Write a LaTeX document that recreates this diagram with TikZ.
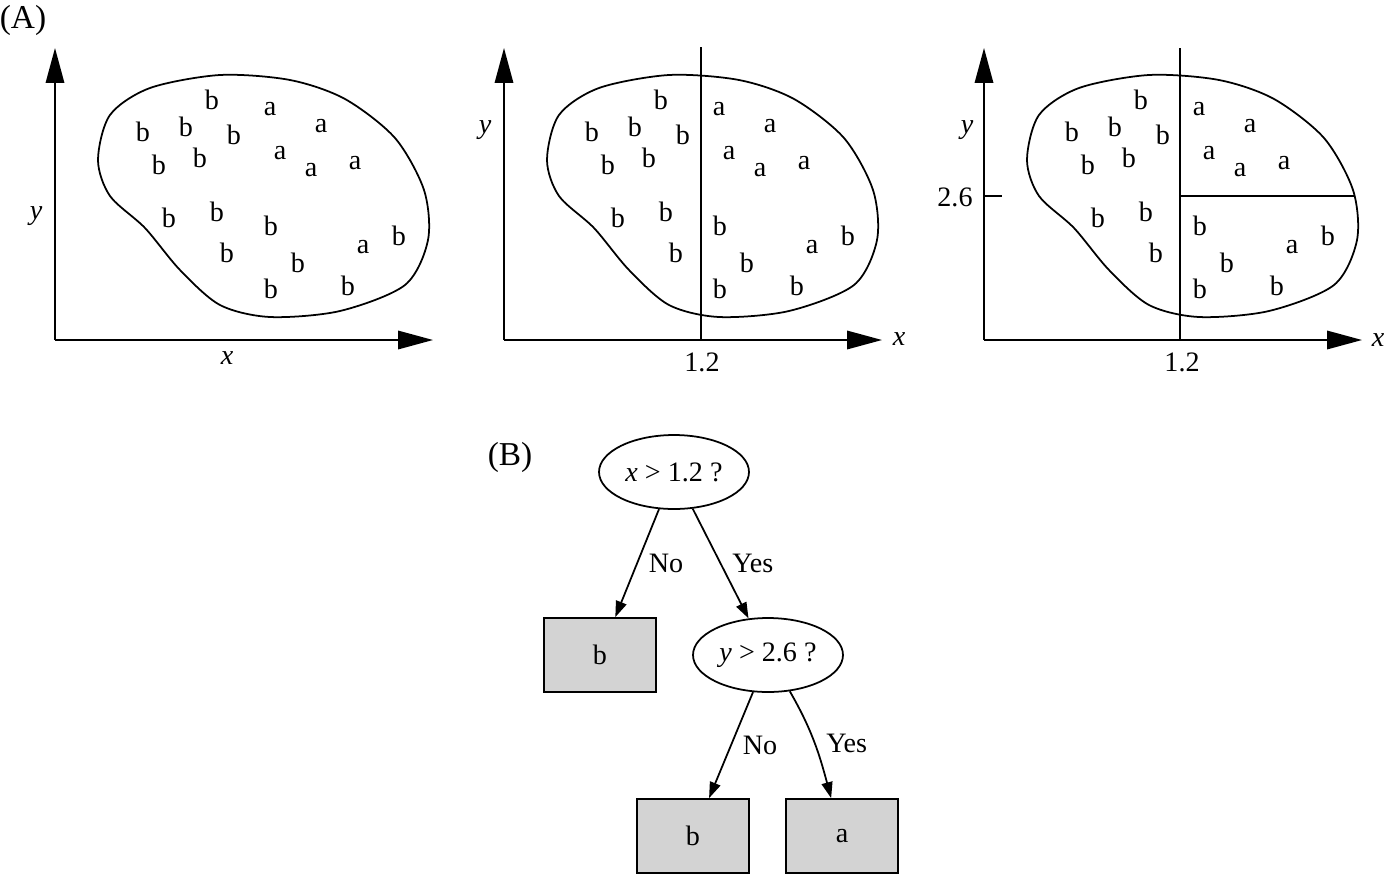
\documentclass[tikz,border=0pt]{standalone}
\usepackage{fontspec}
\setmainfont{Liberation Serif}
\usetikzlibrary{arrows.meta,shapes.geometric,positioning}
\definecolor{leafgray}{RGB}{211,211,211}
\tikzset{ax/.style={line width=1pt,-{Triangle[length=0.7cm,width=0.37cm]}},
         cut/.style={line width=1pt},
         test/.style={ellipse,draw,line width=1pt,minimum width=3cm,minimum height=1.48cm,inner sep=0pt},
         leaf/.style={rectangle,draw,line width=1pt,fill=leafgray,minimum width=2.24cm,minimum height=1.48cm},
         br/.style={line width=1pt,-{Triangle[length=0.32cm,width=0.22cm]}},
         lbl/.style={midway,right=0.1cm},
         part/.style={font=\fontsize{19}{22}\selectfont}}

\begin{document}
\begin{tikzpicture}[x=0.02cm,y=-0.02cm,every node/.style={font=\fontsize{16}{19}\selectfont}]
    \useasboundingbox (0,0) rectangle (1386,876);
    % the three panels of (A)
    \foreach \dx in {0,449,929}{
      \begin{scope}[shift={(\dx,0)}]
        \draw[ax] (55,340) -- (55,48);
        \draw[ax] (55,340) -- (433,340);
        \draw[cut] plot[smooth cycle] coordinates {(220,75) (290,80) (345,99) (395,138) (424,190) (428,240) (405,285) (340,311) (270,317) (220,305) (180,270) (145,228) (110,196) (98,160) (110,115) (150,88)};
        \foreach \px/\py/\c [count=\i] in {212/100/b,270/109/a,321/126/a,143/132/b,186/127/b,234/135/b,159/165/b,200/158/b,280/153/a,311/170/a,355/163/a,169/218/b,217/212/b,271/226/b,227/253/b,363/247/a,399/236/b,298/263/b,271/289/b,348/286/b}
          \node (pt\dx-\i) at (\px,\py) {\c};
      \end{scope}
    }
    \node[part] (lblA) at (23,20) {(A)};
    \node (y1) at (36,216) {\textit{y}};
    \node (x1) at (227,358) {\textit{x}};
    % x > 1.2
    \draw[cut] (701,47) -- (701,340);
    \node (y2) at (485,130) {\textit{y}};
    \node (x2) at (899,339) {\textit{x}};
    \node (c2) at (702,362) {1.2};
    % x > 1.2 and y > 2.6
    \draw[cut] (1180,48) -- (1180,340);
    \draw[cut] (1180,196) -- (1355,196);
    \draw[cut] (984,196) -- (1002,196);
    \node (y3) at (967,130) {\textit{y}};
    \node (t3) at (955,197) {2.6};
    \node (x3) at (1378,340) {\textit{x}};
    \node (c3) at (1182,362) {1.2};
    % (B) the tree
    \node[part] (lblB) at (510,457) {(B)};
    \node[test] (root) at (674,472) {\textit{x} > 1.2 ?};
    \node[leaf] (leafb) at (600,655) {b};
    \node[test] (ytest) at (768,655) {\textit{y} > 2.6 ?};
    \node[leaf] (leafb2) at (693,836) {b};
    \node[leaf] (leafa) at (842,836) {a};
    \draw[br] (root.248) -- node[lbl] {No} (leafb.68);
    \draw[br] (root.297) -- node[lbl] {Yes} (ytest.118);
    \draw[br] (ytest.248) -- node[lbl] {No} (leafb2.67);
    \draw[br] (ytest.301) to[out=-60,in=105] node[lbl] {Yes} (leafa.106);
\end{tikzpicture}
\end{document}
